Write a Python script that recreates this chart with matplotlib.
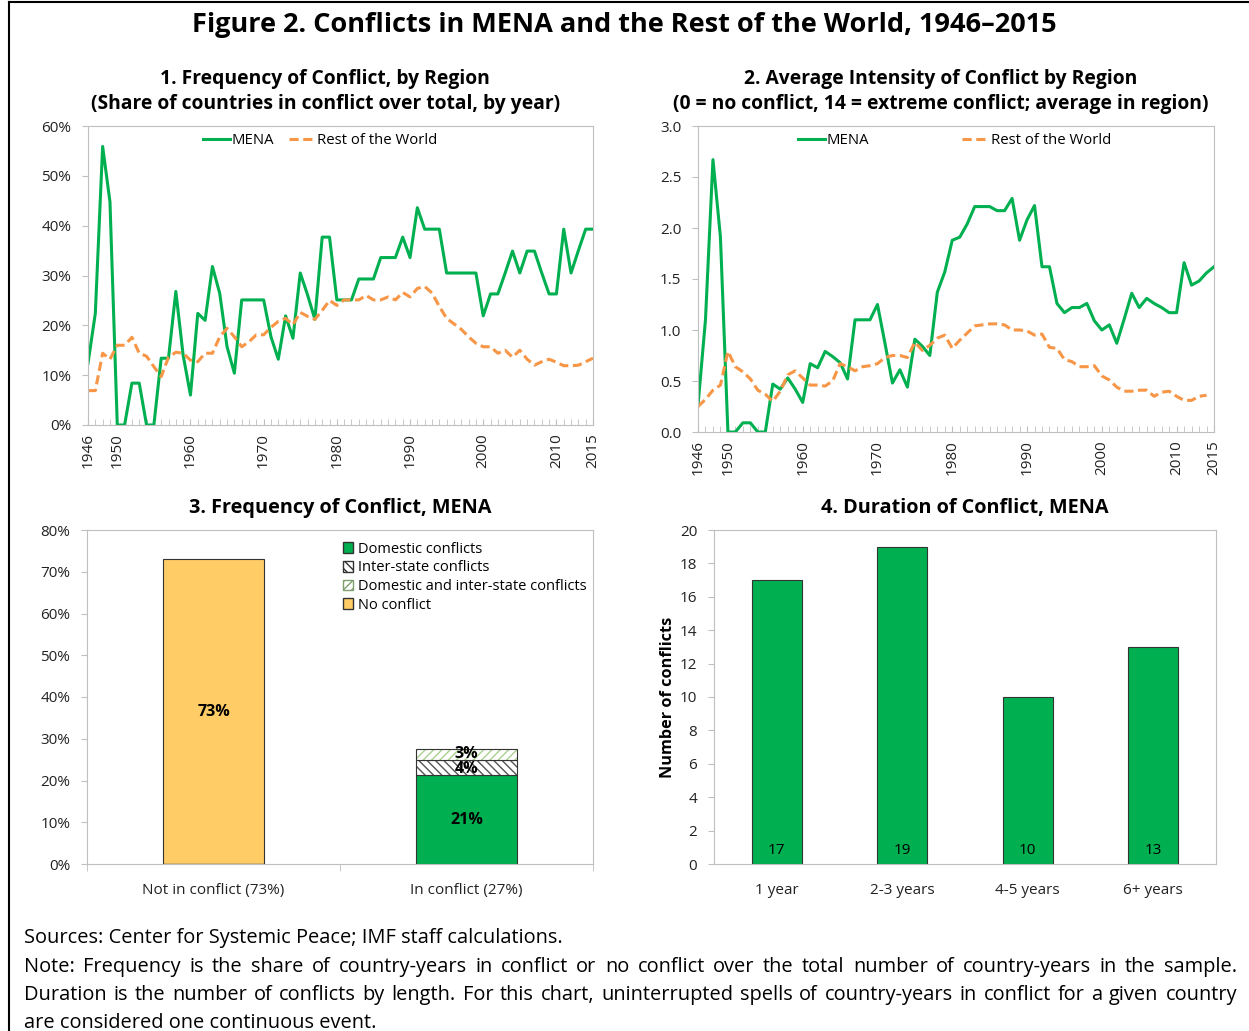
import numpy as np
import matplotlib
matplotlib.use('Agg')
import matplotlib.pyplot as plt
from matplotlib.patches import Patch
from matplotlib.lines import Line2D
from matplotlib.ticker import PercentFormatter, FormatStrFormatter

plt.rcParams['font.family'] = ['Open Sans', 'DejaVu Sans']

W, H = 1249, 1031
GREEN = '#00B050'
ORANGE = '#F79646'
GRID = '#BFBFBF'

years = np.arange(1946, 2016)

# panel 1: share of countries in conflict (%)
freq_mena = [12.4, 22.4, 55.9, 44.8, 0, 0, 8.4, 8.4, 0, 0,
             13.4, 13.4, 26.8, 14.0, 6.0, 22.4, 21.0, 31.8, 26.4, 15.7,
             10.4, 25.1, 25.1, 25.1, 25.1, 17.7, 13.2, 21.9, 17.4, 30.5,
             26.1, 21.2, 37.7, 37.7, 25.1, 25.1, 25.1, 29.3, 29.3, 29.3,
             33.6, 33.6, 33.6, 37.7, 33.6, 43.6, 39.3, 39.3, 39.3, 30.5,
             30.5, 30.5, 30.5, 30.5, 21.9, 26.3, 26.3, 30.5, 34.9, 30.5,
             34.9, 34.9, 30.5, 26.3, 26.3, 39.3, 30.5, 35.0, 39.3, 39.3]
freq_row = [6.9, 6.9, 14.4, 13.2, 16.0, 16.0, 17.6, 14.4, 13.8, 11.7,
            9.7, 13.6, 14.6, 14.4, 13.0, 12.7, 14.4, 14.4, 17.7, 19.4,
            17.7, 15.7, 16.7, 18.1, 18.1, 19.6, 20.8, 21.4, 20.1, 22.6,
            21.8, 21.2, 23.0, 25.0, 24.0, 25.1, 25.1, 25.1, 26.0, 25.1,
            25.1, 25.7, 25.1, 26.6, 25.7, 27.4, 27.8, 26.5, 23.8, 21.4,
            20.3, 19.2, 17.7, 16.4, 15.7, 15.7, 14.4, 15.0, 13.6, 15.0,
            13.2, 12.0, 12.7, 13.2, 12.6, 11.9, 11.9, 12.0, 12.7, 13.4]

# panel 2: average intensity (0-14)
int_mena = [0.26, 1.10, 2.67, 1.91, 0, 0, 0.09, 0.09, 0, 0,
            0.47, 0.42, 0.53, 0.42, 0.29, 0.67, 0.63, 0.79, 0.74, 0.68,
            0.52, 1.10, 1.10, 1.10, 1.25, 0.87, 0.48, 0.61, 0.44, 0.91,
            0.84, 0.75, 1.37, 1.57, 1.88, 1.91, 2.04, 2.21, 2.21, 2.21,
            2.17, 2.17, 2.29, 1.88, 2.08, 2.22, 1.62, 1.62, 1.26, 1.17,
            1.22, 1.22, 1.26, 1.09, 1.00, 1.05, 0.87, 1.11, 1.36, 1.22,
            1.31, 1.26, 1.22, 1.17, 1.17, 1.66, 1.44, 1.48, 1.56, 1.62]
int_row = [0.25, 0.32, 0.41, 0.46, 0.79, 0.64, 0.59, 0.52, 0.41, 0.37,
           0.30, 0.40, 0.56, 0.60, 0.53, 0.46, 0.46, 0.45, 0.50, 0.67,
           0.64, 0.60, 0.64, 0.65, 0.67, 0.73, 0.75, 0.75, 0.73, 0.88,
           0.80, 0.85, 0.92, 0.95, 0.82, 0.90, 0.97, 1.04, 1.05, 1.06,
           1.06, 1.05, 1.00, 1.00, 0.99, 0.95, 0.96, 0.83, 0.82, 0.71,
           0.69, 0.64, 0.64, 0.65, 0.55, 0.51, 0.44, 0.40, 0.40, 0.41,
           0.41, 0.35, 0.39, 0.40, 0.35, 0.31, 0.31, 0.35, 0.36, np.nan]

# panel 3: frequency of conflict, MENA (% of country-years)
freq_cats = ['Not in conflict (73%)', 'In conflict (27%)']
no_conflict = [73, 0]
domestic = [0, 21.2]
interstate = [0, 3.6]
dom_inter = [0, 2.7]

# panel 4: duration of conflict
dur_cats = ['1 year', '2-3 years', '4-5 years', '6+ years']
dur_counts = [17, 19, 10, 13]


def rect(l, t, r, b):
    return [l / W, 1 - b / H, (r - l) / W, (b - t) / H]


def style(ax):
    for s in ax.spines.values():
        s.set_color(GRID)
    ax.tick_params(which='both', colors=GRID, labelcolor='#222222', labelsize=11)
    ax.tick_params(axis='y', length=4, pad=8)


def year_axis(ax):
    ax.set_xlim(1946, 2015)
    ax.set_xticks([1946, 1950, 1960, 1970, 1980, 1990, 2000, 2010, 2015])
    ax.set_xticks(years, minor=True)
    ax.tick_params(axis='x', which='both', direction='in', length=4,
                   rotation=90, pad=6)


fig = plt.figure(figsize=(W / 100, H / 100), dpi=100)

fig.text(0.5, 1 - 25 / H, 'Figure 2. Conflicts in MENA and the Rest of the World, 1946\u20132015',
         ha='center', va='center', fontsize=19.5, fontweight='bold')

sub = dict(fontsize=13.9, fontweight='bold', pad=12, linespacing=1.35, x=0.47)

# 1
ax1 = fig.add_axes(rect(88, 126, 593, 425))
style(ax1)
ax1.plot(years, freq_mena, color=GREEN, lw=2.2, label='MENA')
ax1.plot(years, freq_row, color=ORANGE, lw=2.2, ls=(0, (3, 1.5)), label='Rest of the World')
ax1.set_ylim(0, 60)
ax1.set_yticks(np.arange(0, 61, 10))
ax1.yaxis.set_major_formatter(PercentFormatter(decimals=0))
year_axis(ax1)
ax1.legend(loc='upper center', bbox_to_anchor=(0.46, 1.0), ncol=2, frameon=False, fontsize=10.7,
           handlelength=1.8, handletextpad=0.1, columnspacing=1.0, borderaxespad=0.1)
ax1.set_title('1. Frequency of Conflict, by Region\n(Share of countries in conflict over total, by year)', **sub)

# 2
ax2 = fig.add_axes(rect(698, 126, 1214, 432))
style(ax2)
ax2.plot(years, int_mena, color=GREEN, lw=2.2, label='MENA')
ax2.plot(years, int_row, color=ORANGE, lw=2.2, ls=(0, (3, 1.5)), label='Rest of the World')
ax2.set_ylim(0, 3)
ax2.set_yticks(np.arange(0, 3.01, 0.5))
ax2.yaxis.set_major_formatter(FormatStrFormatter('%.1f'))
year_axis(ax2)
ax2.legend(loc='upper center', bbox_to_anchor=(0.497, 1.0), ncol=2, frameon=False, fontsize=10.7,
           handlelength=1.8, handletextpad=0.1, columnspacing=6.3, borderaxespad=0.1)
ax2.set_title('2. Average Intensity of Conflict by Region\n(0 = no conflict, 14 = extreme conflict; average in region)', **sub)

# 3
ax3 = fig.add_axes(rect(87, 530, 593, 864))
style(ax3)
x3 = np.arange(len(freq_cats))
bw = 0.4
dom = np.array(domestic)
inter = np.array(interstate)
both = np.array(dom_inter)
ax3.bar(x3, no_conflict, bw, color='#FFCC66', edgecolor='#333333', lw=0.8)
ax3.bar(x3, dom, bw, color=GREEN, edgecolor='#333333', lw=0.8)
ax3.bar(x3, inter, bw, bottom=dom, color='white', edgecolor='#555555', hatch='\\\\\\\\', lw=0)
ax3.bar(x3, inter, bw, bottom=dom, fill=False, edgecolor='#333333', lw=0.8)
ax3.bar(x3, both, bw, bottom=dom + inter, color='white', edgecolor='#A9D18E', hatch='////', lw=0)
ax3.bar(x3, both, bw, bottom=dom + inter, fill=False, edgecolor='#333333', lw=0.8)
lab = dict(ha='center', va='center', fontsize=11.5, fontweight='bold')
ax3.text(x3[0], no_conflict[0] / 2, f'{no_conflict[0]:.0f}%', **lab)
ax3.text(x3[1], dom[1] / 2, f'{dom[1]:.0f}%', **lab)
ax3.text(x3[1], dom[1] + inter[1] / 2 - 0.2, f'{inter[1]:.0f}%', **lab)
ax3.text(x3[1], dom[1] + inter[1] + both[1] / 2 + 0.2, f'{both[1]:.0f}%', **lab)
ax3.set_xlim(-0.5, 1.5)
ax3.set_ylim(0, 80)
ax3.set_yticks(np.arange(0, 81, 10))
ax3.yaxis.set_major_formatter(PercentFormatter(decimals=0))
ax3.set_xticks(x3)
ax3.set_xticklabels(freq_cats)
ax3.set_xticks([-0.5, 0.5, 1.5], minor=True)
ax3.tick_params(axis='x', which='major', length=0, pad=14)
ax3.tick_params(axis='x', which='minor', length=5)
handles = [Patch(facecolor=GREEN, edgecolor='#333333', label='Domestic conflicts'),
           Patch(facecolor='white', edgecolor='#333333', hatch='\\\\\\\\', label='Inter-state conflicts'),
           Patch(facecolor='white', edgecolor='#7F9F6F', hatch='////', label='Domestic and inter-state conflicts'),
           Patch(facecolor='#FFCC66', edgecolor='#333333', label='No conflict')]
ax3.legend(handles=handles, loc='upper left', bbox_to_anchor=(0.482, 1.0), frameon=False,
           fontsize=10.5, handlelength=0.75, handleheight=0.75, handletextpad=0.3,
           labelspacing=0.25, borderaxespad=0.4)
ax3.set_title('3. Frequency of Conflict, MENA', fontsize=14.3, fontweight='bold', pad=12)

# 4
ax4 = fig.add_axes(rect(714, 530, 1216, 864))
style(ax4)
x4 = np.arange(len(dur_cats))
ax4.bar(x4, dur_counts, 0.4, color=GREEN, edgecolor='#333333', lw=0.8)
for xi, v in zip(x4, dur_counts):
    ax4.text(xi, 0.8, str(v), ha='center', va='center', fontsize=11)
ax4.set_xlim(-0.5, 3.5)
ax4.set_ylim(0, 20)
ax4.set_yticks(np.arange(0, 21, 2))
ax4.set_xticks(x4)
ax4.set_xticklabels(dur_cats)
ax4.tick_params(axis='x', length=0, pad=14)
ax4.set_ylabel('Number of conflicts', fontsize=11.7, fontweight='bold', labelpad=3)
ax4.set_title('4. Duration of Conflict, MENA', fontsize=14.3, fontweight='bold', pad=12)

# notes, justified like the original
renderer = fig.canvas.get_renderer()
NOTE_FS = 14.4


def put_line(text, ybase, justify=True, x0=24, x1=1237):
    if not justify:
        fig.text(x0 / W, 1 - ybase / H, text, fontsize=NOTE_FS, va='baseline')
        return
    words = text.split()
    widths = []
    for w in words:
        t = fig.text(0, 0, w, fontsize=NOTE_FS)
        widths.append(t.get_window_extent(renderer).width)
        t.remove()
    gap = (x1 - x0 - sum(widths)) / (len(words) - 1)
    x = x0
    for w, wd in zip(words, widths):
        fig.text(x / W, 1 - ybase / H, w, fontsize=NOTE_FS, va='baseline')
        x += wd + gap


put_line('Sources: Center for Systemic Peace; IMF staff calculations.', 943, justify=False)
put_line('Note: Frequency is the share of country-years in conflict or no conflict over the total '
         'number of country-years in the sample.', 972)
put_line('Duration is the number of conflicts by length. For this chart, uninterrupted spells of '
         'country-years in conflict for a given country', 1000)
put_line('are considered one continuous event.', 1028, justify=False)

# frame around the figure (left and top edges visible in the original crop)
fig.add_artist(Line2D([9 / W, 9 / W], [0, 1 - 2 / H], color='black', lw=1.5))
fig.add_artist(Line2D([9 / W, 1], [1 - 2 / H, 1 - 2 / H], color='black', lw=1.5))

fig.savefig('out.png', dpi=100)
